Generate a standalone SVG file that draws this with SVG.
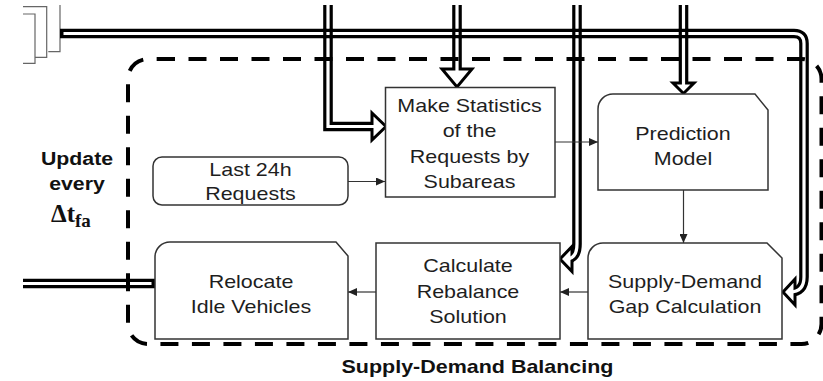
<svg xmlns="http://www.w3.org/2000/svg" width="823" height="381" viewBox="0 0 823 381">
  <style>
    .box { fill: #fff; stroke: #333; stroke-width: 1.5; }
    .t { font-family: "Liberation Sans", Arial, sans-serif; font-size: 19px; fill: #1e1e1e; text-anchor: middle; }
    .b { font-family: "Liberation Sans", Arial, sans-serif; font-size: 19px; font-weight: bold; fill: #111; text-anchor: middle; }
    .thin { fill: none; stroke: #333; stroke-width: 1.2; marker-end: url(#tip); }
    .pipe-o { fill: none; stroke: #000; stroke-width: 9.6; stroke-linejoin: miter; }
    .pipe-i { fill: none; stroke: #fff; stroke-width: 3.2; stroke-linejoin: miter; }
    .head { fill: #fff; stroke: #000; stroke-width: 3; stroke-linejoin: miter; }
    .xline { stroke: #000; stroke-width: 3.2; }
    .stub { fill: none; stroke: #666; stroke-width: 1.2; }
    .border { fill: none; stroke: #000; stroke-width: 4; stroke-dasharray: 18 13.5; }
  </style>
  <defs>
    <marker id="tip" markerUnits="userSpaceOnUse" markerWidth="9" markerHeight="8" refX="9" refY="4" orient="auto">
      <path d="M0,0 L9,4 L0,8 z" fill="#222"/>
    </marker>
  </defs>
  <rect width="823" height="381" fill="#fff"/>

  <!-- partially visible upstream blocks on the left -->
  <g id="upstream-stubs">
    <path class="stub" d="M23,6.7 H46.7 V57.3 H35"/>
    <path class="stub" d="M23,14 H35 V63.3 H23"/>
    <path class="stub" d="M60,5 V51.7 H48.3"/>
  </g>

  <!-- thick double-line data feeds -->
  <g id="connectors">
    <!-- feed into Make Statistics (side) -->
    <path class="pipe-o" d="M328,5 V126.5 H373"/>
    <polygon class="head" points="372,113 386,126.5 372,140"/>
    <path class="pipe-i" d="M328,5 V126.5 H377"/>

    <!-- feed into Make Statistics (top) -->
    <path class="pipe-o" d="M457,5 V69"/>
    <polygon class="head" points="442,69 472,69 457,87"/>
    <path class="pipe-i" d="M457,5 V73"/>

    <!-- feed into Calculate Rebalance Solution -->
    <path class="pipe-o" d="M577,5 V244 Q577,259 566,259"/>
    <polygon class="head" points="572,246.5 572,271.5 560,259"/>
    <path class="pipe-i" d="M577,5 V244 Q577,259 566,259"/>

    <!-- feed into Prediction Model -->
    <path class="pipe-o" d="M683.5,5 V83"/>
    <polygon class="head" points="673,83 694,83 683.5,93.5"/>
    <path class="pipe-i" d="M683.5,5 V86"/>

    <!-- long feed into Supply-Demand Gap Calculation -->
    <path class="pipe-o" d="M60,33.5 H794 Q804,33.5 804,43.5 V277 Q804,292 790,292"/>
    <polygon class="head" points="795,279 795,305 783,292"/>
    <path class="pipe-i" d="M63.5,33.5 H794 Q804,33.5 804,43.5 V277 Q804,292 790,292"/>

    <!-- vertical lines restored where feeds cross -->
    <g>
      <line class="xline" x1="324.8" y1="28.7" x2="324.8" y2="38.3"/>
      <line class="xline" x1="331.2" y1="28.7" x2="331.2" y2="38.3"/>
      <line class="xline" x1="453.8" y1="28.7" x2="453.8" y2="38.3"/>
      <line class="xline" x1="460.2" y1="28.7" x2="460.2" y2="38.3"/>
      <line class="xline" x1="573.8" y1="28.7" x2="573.8" y2="38.3"/>
      <line class="xline" x1="580.2" y1="28.7" x2="580.2" y2="38.3"/>
      <line class="xline" x1="680.3" y1="28.7" x2="680.3" y2="38.3"/>
      <line class="xline" x1="686.7" y1="28.7" x2="686.7" y2="38.3"/>
    </g>

    <!-- output from Relocate Idle Vehicles -->
    <path class="pipe-o" d="M23,283.5 H155"/>
    <path class="pipe-i" d="M23,283.5 H151.5"/>

    <!-- thin flow arrows -->
    <line class="thin" x1="348" y1="181.5" x2="385" y2="181.5"/>
    <line class="thin" x1="555" y1="142" x2="598" y2="142"/>
    <line class="thin" x1="683.5" y1="190" x2="683.5" y2="243"/>
    <line class="thin" x1="588" y1="292" x2="560" y2="292"/>
    <line class="thin" x1="376" y1="292" x2="348" y2="292"/>
  </g>

  <!-- dashed module boundary -->
  <path class="border" d="M157,59 H801.5 A20,20 0 0 1 821.5,79 V324 A20,20 0 0 1 801.5,344 H148 A20,20 0 0 1 128,324 V79 A20,20 0 0 1 148,59 Z"/>

  <g id="last-requests">
    <rect class="box" x="153" y="157" width="195" height="48" rx="9"/>
    <g transform="translate(250.5,0) scale(1.13,1)">
      <text class="t" x="0" y="176">Last 24h</text>
      <text class="t" x="0" y="200.5">Requests</text>
    </g>
  </g>

  <g id="make-statistics">
    <rect class="box" x="385.5" y="87.5" width="169.5" height="109.5"/>
    <g transform="translate(469.5,0) scale(1.13,1)">
      <text class="t" x="0" y="112">Make Statistics</text>
      <text class="t" x="0" y="137">of the</text>
      <text class="t" x="0" y="163">Requests by</text>
      <text class="t" x="0" y="188.5">Subareas</text>
    </g>
  </g>

  <g id="prediction-model">
    <path class="box" d="M598,190 V109 A15,15 0 0 1 613,94 H755 L768,110 V190 Z"/>
    <g transform="translate(683,0) scale(1.13,1)">
      <text class="t" x="0" y="140">Prediction</text>
      <text class="t" x="0" y="165">Model</text>
    </g>
  </g>

  <g id="gap-calculation">
    <path class="box" d="M588,339 V258 A15,15 0 0 1 603,243 H767 L782,258 V339 Z"/>
    <g transform="translate(685,0) scale(1.13,1)">
      <text class="t" x="0" y="288">Supply-Demand</text>
      <text class="t" x="0" y="313">Gap Calculation</text>
    </g>
  </g>

  <g id="rebalance-solution">
    <rect class="box" x="376" y="243" width="184" height="96"/>
    <g transform="translate(468,0) scale(1.13,1)">
      <text class="t" x="0" y="272">Calculate</text>
      <text class="t" x="0" y="298">Rebalance</text>
      <text class="t" x="0" y="323">Solution</text>
    </g>
  </g>

  <g id="relocate-vehicles">
    <path class="box" d="M155,339 V257 A15,15 0 0 1 170,242 H336 L348,256 V339 Z"/>
    <g transform="translate(251,0) scale(1.13,1)">
      <text class="t" x="0" y="288">Relocate</text>
      <text class="t" x="0" y="313">Idle Vehicles</text>
    </g>
  </g>

  <!-- labels -->
  <g id="labels">
    <g transform="translate(77,0) scale(1.12,1)">
      <text class="b" x="0" y="165">Update</text>
      <text class="b" x="0" y="190">every</text>
    </g>
    <text x="51" y="222" font-family="Liberation Serif, serif" font-weight="bold" font-size="25" fill="#111">Δt<tspan font-size="19" dy="5">fa</tspan></text>
    <g transform="translate(477.5,0) scale(1.13,1)">
      <text class="b" x="0" y="373">Supply-Demand Balancing</text>
    </g>
  </g>
</svg>
